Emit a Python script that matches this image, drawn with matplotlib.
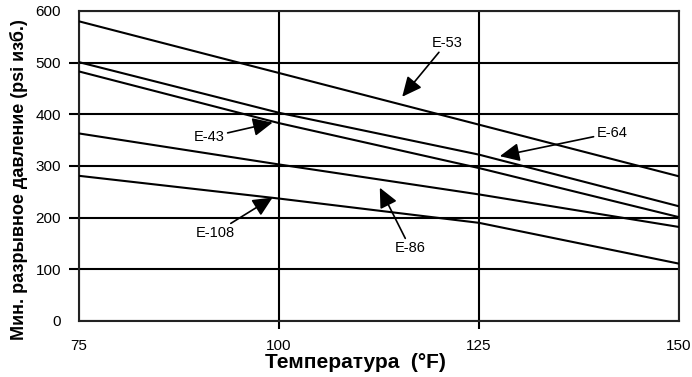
import matplotlib
matplotlib.use("Agg")
import matplotlib.pyplot as plt

plt.rcParams['font.family'] = ['Liberation Sans', 'DejaVu Sans']

temps = [75, 100, 125, 150]
e53 = [580, 480, 380, 280]
e64 = [501, 403, 322, 222]
e43 = [483, 383, 296, 201]
e86 = [363, 303, 245, 182]
e108 = [281, 237, 190, 111]

x_ticks = [75, 100, 125, 150]
y_ticks = [0, 100, 200, 300, 400, 500, 600]

xlabel = "Температура  (°F)"
ylabel = "Мин. разрывное давление (psi изб.)"

# label, text position, arrow head position
annots = [
    ("E-53", (121.0, 539), (115.4, 434)),
    ("E-64", (141.6, 364), (127.6, 319)),
    ("E-43", (91.3, 356), (99.2, 384)),
    ("E-108", (92.0, 170), (99.2, 239)),
    ("E-86", (116.4, 141), (112.6, 258)),
]

fig = plt.figure(figsize=(6.92, 3.77), dpi=100)
ax = fig.add_axes([79/692, 56/377, 600/692, 310/377])

for s in [e53, e64, e43, e86, e108]:
    ax.plot(temps, s, color='black', lw=1.5, solid_capstyle='butt', zorder=3)

ax.set_xlim(75, 150)
ax.set_ylim(0, 600)
ax.set_xticks(x_ticks)
ax.set_yticks(y_ticks)
ax.grid(True, color='black', lw=1.5)
ax.set_axisbelow(True)
for sp in ax.spines.values():
    sp.set_linewidth(1.5)
    sp.set_color('#222222')

ax.tick_params(axis='x', length=6, width=1.5, pad=7, labelsize=11)
ax.tick_params(axis='y', length=7, width=1.5, pad=6, labelsize=11)
for t in (ax.xaxis.get_major_ticks()[0], ax.xaxis.get_major_ticks()[-1],
          ax.yaxis.get_major_ticks()[0], ax.yaxis.get_major_ticks()[-1]):
    t.tick1line.set_visible(False)

ax.set_xlabel(xlabel, fontsize=15, fontweight='bold')
ax.xaxis.set_label_coords((355 - 79) / 600, -(362 - 321) / 310, transform=ax.transAxes)
ax.set_ylabel(ylabel, fontsize=13, fontweight='bold')
ax.yaxis.set_label_coords(-(79 - 19) / 600, (321 - 180) / 310, transform=ax.transAxes)
ax.xaxis.label.set_va('center')
ax.yaxis.label.set_va('center')

for label, tpos, hpos in annots:
    ax.annotate(label, xy=hpos, xytext=tpos, ha='center', va='center',
                fontsize=10.5, zorder=5,
                arrowprops=dict(arrowstyle='-|>,head_length=0.6,head_width=0.28',
                                color='black', lw=1.2,
                                mutation_scale=20, shrinkA=0, shrinkB=0))

fig.savefig("out.png", dpi=100)
